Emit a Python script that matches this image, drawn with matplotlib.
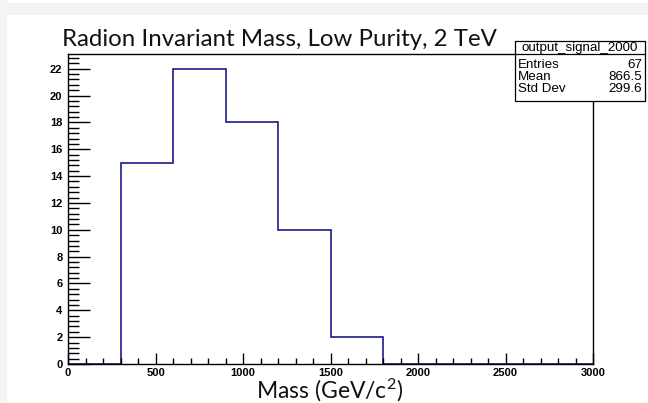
import matplotlib
matplotlib.use("Agg")
import matplotlib.pyplot as plt
from matplotlib.patches import Rectangle
from matplotlib.ticker import MultipleLocator

plt.rcParams["mathtext.fontset"] = "custom"
plt.rcParams["mathtext.rm"] = "Lato"
plt.rcParams["mathtext.it"] = "Lato:italic"
plt.rcParams["mathtext.bf"] = "Lato:bold"

# Data
bin_edges = [0, 300, 600, 900, 1200, 1500, 1800, 2100, 2400, 2700, 3000]
counts = [0, 15, 22, 18, 10, 2, 0, 0, 0, 0]
x_ticks = [0, 500, 1000, 1500, 2000, 2500, 3000]
y_ticks = [0, 2, 4, 6, 8, 10, 12, 14, 16, 18, 20, 22]
title = "Radion Invariant Mass, Low Purity, 2 TeV"
xlabel = "Mass (GeV/c$^{\\mathrm{2}}$)"
stats_name = "output_signal_2000"
stats_labels = ["Entries", "Mean", "Std Dev"]
stats_values = ["67", "866.5", "299.6"]

W, H = 648, 403
fig = plt.figure(figsize=(W / 100, H / 100), dpi=100)
fig.patch.set_facecolor("#f4f4f4")

def fx(px):
    return px / W

def fy(py):
    return 1 - py / H

# white slide panel
fig.patches.append(Rectangle((fx(7), 0), 1 - fx(7), fy(15), transform=fig.transFigure,
                             facecolor="white", edgecolor="none", zorder=-2))
fig.patches.append(Rectangle((fx(7), fy(3)), 1 - fx(7), 3 / H, transform=fig.transFigure,
                             facecolor="white", edgecolor="none", zorder=-2))

left, right, top, bottom = 68, 593, 54, 364
ax = fig.add_axes([fx(left), fy(bottom), fx(right - left), (bottom - top) / H])
ax.set_zorder(1)
ax.set_facecolor("white")
ax.stairs(counts, bin_edges, color="#1a1a8c", linewidth=1.2, zorder=1)
ax.set_xlim(0, 3000)
ax.set_ylim(0, 23.1)
for s in ax.spines.values():
    s.set_linewidth(1.0)
    s.set_color("black")
    s.set_zorder(3)

ax.set_xticks(x_ticks)
ax.set_yticks(y_ticks)
ax.xaxis.set_minor_locator(MultipleLocator(100))
ax.yaxis.set_minor_locator(MultipleLocator(0.4))
ax.tick_params(axis="x", which="major", direction="in", length=8, width=1, pad=3,
               top=False, labelsize=8)
ax.tick_params(axis="x", which="minor", direction="in", length=4, width=1, top=False)
ax.tick_params(axis="y", which="major", direction="in", length=16, width=1, pad=4,
               right=False, labelsize=8)
ax.tick_params(axis="y", which="minor", direction="in", length=8, width=1, right=False)
for lab in ax.get_xticklabels() + ax.get_yticklabels():
    lab.set_fontfamily("Liberation Sans")
    lab.set_fontweight("bold")

# Title and axis label (slide font)
fig.text(fx(62), fy(46), title, fontsize=17.3, family="Lato", ha="left", va="baseline",
         color="#111111", zorder=4)
fig.text(fx(330), fy(399), xlabel, fontsize=16.5, family="Lato", ha="center",
         va="baseline", color="#111111", zorder=4)

# Stats box
bx0, bx1, by0, by1 = 515, 645, 41, 101
fig.patches.append(Rectangle((fx(bx0), fy(by1)), fx(bx1 - bx0), (by1 - by0) / H,
                             transform=fig.transFigure, facecolor="white",
                             edgecolor="black", linewidth=0.9, zorder=5))
fig.lines.append(plt.Line2D([fx(bx0), fx(bx1)], [fy(54), fy(54)], transform=fig.transFigure,
                            color="black", linewidth=0.9, zorder=6))
fig.text(fx((bx0 + bx1) / 2), fy(47.5), stats_name, fontsize=9.6, family="Liberation Sans",
         ha="center", va="center", zorder=7)
row_y = [64.5, 76.5, 89]
for yy, lab, val in zip(row_y, stats_labels, stats_values):
    fig.text(fx(bx0 + 3), fy(yy), lab, fontsize=9.6, family="Liberation Sans",
             ha="left", va="center", zorder=7)
    fig.text(fx(bx1 - 3), fy(yy), val, fontsize=9.6, family="Liberation Sans",
             ha="right", va="center", zorder=7)

fig.savefig("out.png", dpi=100, facecolor=fig.get_facecolor())
